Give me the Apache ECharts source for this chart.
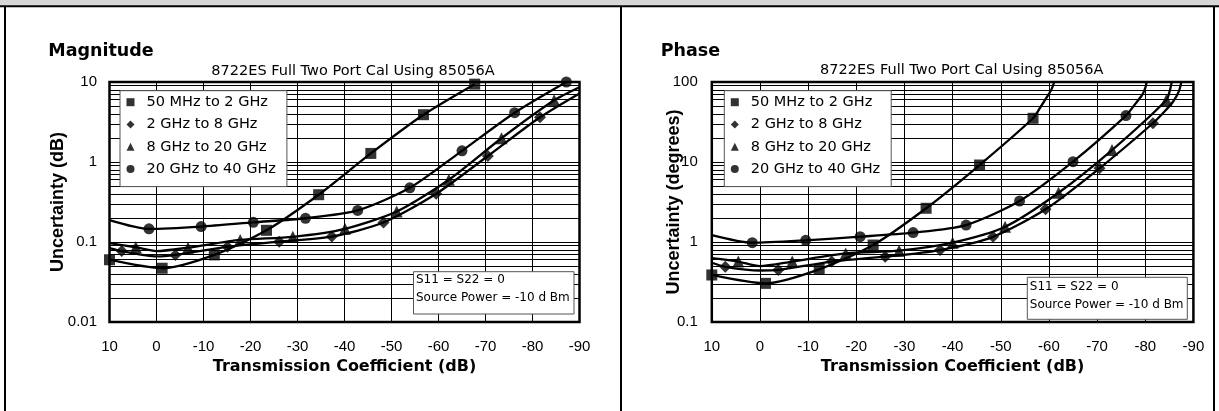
<!DOCTYPE html>
<html>
<head>
<meta charset="utf-8">
<script src="https://cdn.jsdelivr.net/npm/echarts@6/dist/echarts.min.js"></script>
<style>
html,body{margin:0;padding:0;background:#fff;}
#chart{width:1219px;height:411px;}
</style>
</head>
<body>
<div id="chart"></div>
<script>
// ---------------- DATA ----------------
const seriesNames = ['50 MHz to 2 GHz', '2 GHz to 8 GHz', '8 GHz to 20 GHz', '20 GHz to 40 GHz'];
const xTickValues = [10, 0, -10, -20, -30, -40, -50, -60, -70, -80, -90];

// Magnitude panel: [transmission coefficient (dB), uncertainty (dB)]
const mag50Curve  = [[10,0.060],[-1.2,0.047],[-12.3,0.069],[-23.4,0.14],[-34.5,0.39],[-45.6,1.28],[-56.8,3.9],[-67.7,9.4]];
const mag50Marks  = [[10,0.060],[-1.2,0.047],[-12.3,0.069],[-23.4,0.14],[-34.5,0.39],[-45.6,1.28],[-56.8,3.9],[-67.7,9.4]];
const mag2Curve   = [[10,0.084],[7.4,0.077],[0,0.066],[-4,0.069],[-15.1,0.087],[-26.1,0.101],[-37.3,0.117],[-48.3,0.175],[-59.5,0.40],[-70.5,1.19],[-81.6,3.62],[-90,7.2]];
const mag2Marks   = [[7.4,0.077],[-4,0.069],[-15.1,0.087],[-26.1,0.101],[-37.3,0.117],[-48.3,0.175],[-59.5,0.40],[-70.5,1.19],[-81.6,3.62]];
const mag8Curve   = [[10,0.097],[4.4,0.086],[0,0.077],[-6.7,0.085],[-17.8,0.106],[-29,0.116],[-40.1,0.146],[-51.1,0.24],[-62.2,0.60],[-73.4,1.98],[-84.6,5.9],[-90,8.6]];
const mag8Marks   = [[4.4,0.086],[-6.7,0.085],[-17.8,0.106],[-29,0.116],[-40.1,0.146],[-51.1,0.24],[-62.2,0.60],[-73.4,1.98],[-84.6,5.9]];
const mag20Curve  = [[10,0.188],[1.6,0.146],[-9.5,0.156],[-20.6,0.176],[-31.7,0.198],[-42.8,0.248],[-53.9,0.475],[-65,1.38],[-76.2,4.13],[-87.2,10]];
const mag20Marks  = [[1.6,0.146],[-9.5,0.156],[-20.6,0.176],[-31.7,0.198],[-42.8,0.248],[-53.9,0.475],[-65,1.38],[-76.2,4.13],[-87.2,10]];

// Phase panel: [transmission coefficient (dB), uncertainty (degrees)]
const ph50Curve   = [[10,0.387],[-1.15,0.304],[-12.3,0.455],[-23.5,0.917],[-34.5,2.64],[-45.6,9.17],[-56.7,35.2],[-58.2,48],[-59.6,65],[-60.5,80],[-60.9,92],[-61.1,100]];
const ph50Marks   = [[10,0.387],[-1.15,0.304],[-12.3,0.455],[-23.5,0.917],[-34.5,2.64],[-45.6,9.17],[-56.7,35.2]];
const ph2Curve    = [[10,0.55],[7.2,0.49],[0,0.44],[-3.8,0.447],[-14.9,0.57],[-26,0.655],[-37.4,0.794],[-48.4,1.16],[-59.3,2.56],[-70.5,8.34],[-81.6,30.5],[-84.2,44],[-85.8,57],[-87.0,77],[-87.5,100]];
const ph2Marks    = [[7.2,0.49],[-3.8,0.447],[-14.9,0.57],[-26,0.655],[-37.4,0.794],[-48.4,1.16],[-59.3,2.56],[-70.5,8.34],[-81.6,30.5]];
const ph8Curve    = [[10,0.63],[4.5,0.57],[0,0.50],[-6.7,0.57],[-17.8,0.72],[-28.9,0.78],[-40,0.98],[-50.9,1.55],[-62,4.13],[-73.1,14.1],[-84.4,59.6],[-85.1,78],[-85.5,100]];
const ph8Marks    = [[4.5,0.57],[-6.7,0.57],[-17.8,0.72],[-28.9,0.78],[-40,0.98],[-50.9,1.55],[-62,4.13],[-73.1,14.1],[-84.4,59.6]];
const ph20Curve   = [[10,1.22],[1.6,0.98],[-9.5,1.05],[-20.8,1.165],[-31.8,1.31],[-42.8,1.63],[-53.9,3.25],[-65,10.1],[-76,38],[-77.8,52],[-79.3,68],[-80.0,84],[-80.3,100]];
const ph20Marks   = [[1.6,0.98],[-9.5,1.05],[-20.8,1.165],[-31.8,1.31],[-42.8,1.63],[-53.9,3.25],[-65,10.1],[-76,38]];

// minor (2..9) horizontal grid values of the log axes
const magMinorGrid   = [0.02,0.03,0.04,0.05,0.06,0.07,0.08,0.09,0.2,0.3,0.4,0.5,0.6,0.7,0.8,0.9,2,3,4,5,6,7,8,9];
const phaseMinorGrid = [0.2,0.3,0.4,0.5,0.6,0.7,0.8,0.9,2,3,4,5,6,7,8,9,20,30,40,50,60,70,80,90];

// texts
const magTitle = 'Magnitude';
const phaseTitle = 'Phase';
const subTitle = '8722ES Full Two Port Cal Using 85056A';
const xName = 'Transmission Coefficient (dB)';
const magYName = 'Uncertainty (dB)';
const phaseYName = 'Uncertainty (degrees)';
const noteLines = ['S11 = S22 = 0', 'Source Power = -10 d Bm'];

// ---------------- CHART ----------------
const chart = echarts.init(document.getElementById('chart'), null, {renderer: 'canvas'});

const shapes = ['rect', 'diamond', 'triangle', 'circle'];
const shapeSizes = [11, 12, 12, 11];
const SANS = '"DejaVu Sans", sans-serif';
const ARIAL = '"Liberation Sans", Arial, sans-serif';

function buildSeries(idx, curves, marks, minor) {
  const out = [];
  marks.forEach((m, i) => out.push({
    type: 'scatter', name: seriesNames[i], xAxisIndex: idx, yAxisIndex: idx,
    data: m, symbol: shapes[i], symbolSize: shapeSizes[i],
    itemStyle: {color: '#000'}, clip: false, z: 4, silent: true
  }));
  curves.forEach((c, i) => out.push({
    type: 'line', name: seriesNames[i], xAxisIndex: idx, yAxisIndex: idx,
    data: c, smooth: 0.25, showSymbol: false, symbol: 'none',
    lineStyle: {color: '#000', width: 2.3}, itemStyle: {color: '#000'},
    clip: true, z: 3, silent: true
  }));
  out.push({
    type: 'line', xAxisIndex: idx, yAxisIndex: idx, data: [], silent: true, z: 1,
    markLine: {
      silent: true, symbol: ['none', 'none'], label: {show: false}, z: 1,
      animation: false, emphasis: {disabled: true},
      lineStyle: {color: '#000', width: 1, type: 'solid'},
      data: minor.map(v => ({yAxis: v}))
    }
  });
  return out;
}

function xAxisOpt(idx) {
  return {
    type: 'value', gridIndex: idx, min: -90, max: 10, interval: 10, inverse: true,
    name: xName, nameLocation: 'middle', nameGap: 37, nameMoveOverlap: false,
    nameTextStyle: {fontFamily: SANS, fontWeight: 'bold', fontSize: 16, color: '#000'},
    axisLine: {show: false}, axisTick: {show: false},
    axisLabel: {color: '#000', fontFamily: ARIAL, fontSize: 15, margin: 17.5, showMinLabel: true, showMaxLabel: true},
    splitLine: {show: true, lineStyle: {color: '#000', width: 1}}
  };
}
function yAxisOpt(idx, min, max, name, gap, margin) {
  return {
    type: 'log', logBase: 10, gridIndex: idx, min: min, max: max,
    name: name, nameLocation: 'middle', nameGap: gap, nameRotate: 90, nameMoveOverlap: false,
    nameTextStyle: {fontFamily: ARIAL, fontWeight: 'bold', fontSize: 18, color: '#000'},
    axisLine: {show: false}, axisTick: {show: false},
    axisLabel: {color: '#000', fontFamily: ARIAL, fontSize: 15, margin: margin, showMinLabel: true, showMaxLabel: true},
    splitLine: {show: true, lineStyle: {color: '#000', width: 1}},
    minorTick: {show: false}, minorSplitLine: {show: false}
  };
}
function legendOpt(left) {
  return {
    orient: 'vertical', left: left, top: 90.7, selectedMode: false,
    data: seriesNames.map((n, i) => ({name: n, icon: shapes[i]})),
    itemWidth: 8, itemHeight: 8, itemGap: 7.3,
    padding: [4, 11, 10, 6.5],
    backgroundColor: '#fff', borderColor: '#555', borderWidth: 1,
    textStyle: {fontFamily: SANS, fontSize: 14.5, color: '#000', lineHeight: 14, padding: [0, 0, 0, 7]},
    z: 6
  };
}
function noteBox(x, y, w, h, ty1, ty2) {
  return {
    type: 'group', z: 50, children: [
      {type: 'rect', z: 50, shape: {x: x, y: y, width: w, height: h}, style: {fill: '#fff', stroke: '#555', lineWidth: 1}},
      {type: 'text', z: 51, x: x + 2.5, y: ty1, style: {text: noteLines[0], font: '12px ' + SANS, fill: '#000', align: 'left', verticalAlign: 'middle'}},
      {type: 'text', z: 51, x: x + 2.5, y: ty2, style: {text: noteLines[1], font: '12px ' + SANS, fill: '#000', align: 'left', verticalAlign: 'middle'}}
    ]
  };
}

const option = {
  animation: false,
  backgroundColor: '#fff',
  grid: [
    {left: 109.5, top: 82, width: 470, height: 240, show: true, backgroundColor: '#fff', borderColor: '#000', borderWidth: 2.5, outerBoundsMode: 'none'},
    {left: 711.8, top: 82, width: 481.6, height: 240, show: true, backgroundColor: '#fff', borderColor: '#000', borderWidth: 2.5, outerBoundsMode: 'none'}
  ],
  xAxis: [xAxisOpt(0), xAxisOpt(1)],
  yAxis: [yAxisOpt(0, 0.01, 10, magYName, 42, 12.5), yAxisOpt(1, 0.1, 100, phaseYName, 29, 14)],
  legend: [legendOpt(120), legendOpt(724.3)],
  series: [].concat(
    buildSeries(0, [mag50Curve, mag2Curve, mag8Curve, mag20Curve], [mag50Marks, mag2Marks, mag8Marks, mag20Marks], magMinorGrid),
    buildSeries(1, [ph50Curve, ph2Curve, ph8Curve, ph20Curve], [ph50Marks, ph2Marks, ph8Marks, ph20Marks], phaseMinorGrid)
  ),
  graphic: {elements: [
    {type: 'rect', z: 60, shape: {x: 0, y: 0, width: 1219, height: 5.5}, style: {fill: '#d6d6d6'}},
    {type: 'line', z: 60, shape: {x1: 0, y1: 6.3, x2: 1219, y2: 6.3}, style: {stroke: '#000', lineWidth: 2}},
    {type: 'line', z: 60, shape: {x1: 5, y1: 6, x2: 5, y2: 411}, style: {stroke: '#000', lineWidth: 2}},
    {type: 'line', z: 60, shape: {x1: 621, y1: 6, x2: 621, y2: 411}, style: {stroke: '#000', lineWidth: 2}},
    {type: 'line', z: 60, shape: {x1: 1214, y1: 6, x2: 1214, y2: 411}, style: {stroke: '#000', lineWidth: 2}},
    {type: 'text', z: 60, x: 48.3, y: 51, style: {text: magTitle, font: 'bold 17.5px ' + SANS, fill: '#000', align: 'left', verticalAlign: 'middle'}},
    {type: 'text', z: 60, x: 660.7, y: 51, style: {text: phaseTitle, font: 'bold 17.5px ' + SANS, fill: '#000', align: 'left', verticalAlign: 'middle'}},
    {type: 'text', z: 60, x: 353, y: 71, style: {text: subTitle, font: '14.5px ' + SANS, fill: '#000', align: 'center', verticalAlign: 'middle'}},
    {type: 'text', z: 60, x: 961.7, y: 70.5, style: {text: subTitle, font: '14.5px ' + SANS, fill: '#000', align: 'center', verticalAlign: 'middle'}},
    noteBox(413.5, 271.7, 160.5, 42.3, 279.5, 298),
    noteBox(1027.3, 277.3, 160, 42, 286.7, 305.3)
  ]}
};
chart.setOption(option);
</script>
</body>
</html>
